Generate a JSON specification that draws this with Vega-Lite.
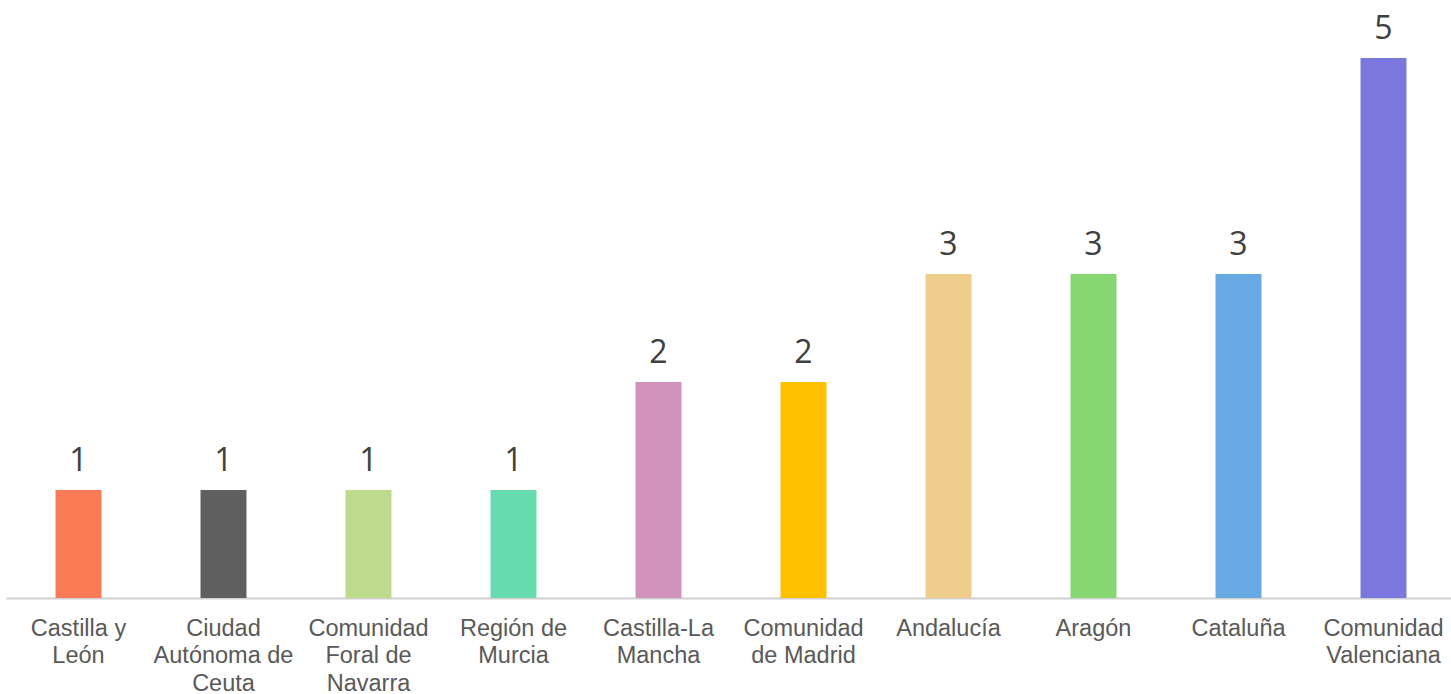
{
  "$schema": "https://vega.github.io/schema/vega-lite/v6.json",
  "width": 1450,
  "height": 594,
  "autosize": {"type": "none"},
  "padding": {"left": 6, "top": 4, "right": 0, "bottom": 96},
  "background": "white",
  "config": {"view": {"stroke": null}},
  "data": {
    "values": [
      {"region": "Castilla y León", "count": 1, "color": "#F97B55"},
      {"region": "Ciudad Autónoma de Ceuta", "count": 1, "color": "#5F5F5F"},
      {"region": "Comunidad Foral de Navarra", "count": 1, "color": "#BDDA8D"},
      {"region": "Región de Murcia", "count": 1, "color": "#66DBB0"},
      {"region": "Castilla-La Mancha", "count": 2, "color": "#D192BC"},
      {"region": "Comunidad de Madrid", "count": 2, "color": "#FFC000"},
      {"region": "Andalucía", "count": 3, "color": "#EFCD8C"},
      {"region": "Aragón", "count": 3, "color": "#86D672"},
      {"region": "Cataluña", "count": 3, "color": "#67A9E3"},
      {"region": "Comunidad Valenciana", "count": 5, "color": "#7A78DE"}
    ]
  },
  "encoding": {
    "x": {
      "field": "region",
      "type": "nominal",
      "sort": null,
      "scale": {"paddingInner": 0, "paddingOuter": 0},
      "axis": {
        "title": null,
        "labelAngle": 0,
        "labelFont": "Liberation Sans",
        "labelFontSize": 23.5,
        "labelColor": "#595959",
        "labelLineHeight": 27.5,
        "labelPadding": 18,
        "labelBaseline": "top",
        "ticks": false,
        "domainColor": "#D0D0D0",
        "domainWidth": 2,
        "labelExpr": "({'Castilla y León': ['Castilla y', 'León'], 'Ciudad Autónoma de Ceuta': ['Ciudad', 'Autónoma de', 'Ceuta'], 'Comunidad Foral de Navarra': ['Comunidad', 'Foral de', 'Navarra'], 'Región de Murcia': ['Región de', 'Murcia'], 'Castilla-La Mancha': ['Castilla-La', 'Mancha'], 'Comunidad de Madrid': ['Comunidad', 'de Madrid'], 'Comunidad Valenciana': ['Comunidad', 'Valenciana']})[datum.value] || datum.value"
      }
    },
    "y": {
      "field": "count",
      "type": "quantitative",
      "scale": {"domain": [0, 5.5], "nice": false},
      "axis": null
    }
  },
  "layer": [
    {
      "mark": {"type": "bar", "width": {"band": 0.317}},
      "encoding": {
        "color": {"field": "color", "type": "nominal", "scale": null, "legend": null}
      }
    },
    {
      "mark": {
        "type": "text",
        "baseline": "alphabetic",
        "dy": -19,
        "font": "Open Sans",
        "fontSize": 32,
        "color": "#404040"
      },
      "encoding": {
        "text": {"field": "count", "type": "quantitative"}
      }
    }
  ]
}
